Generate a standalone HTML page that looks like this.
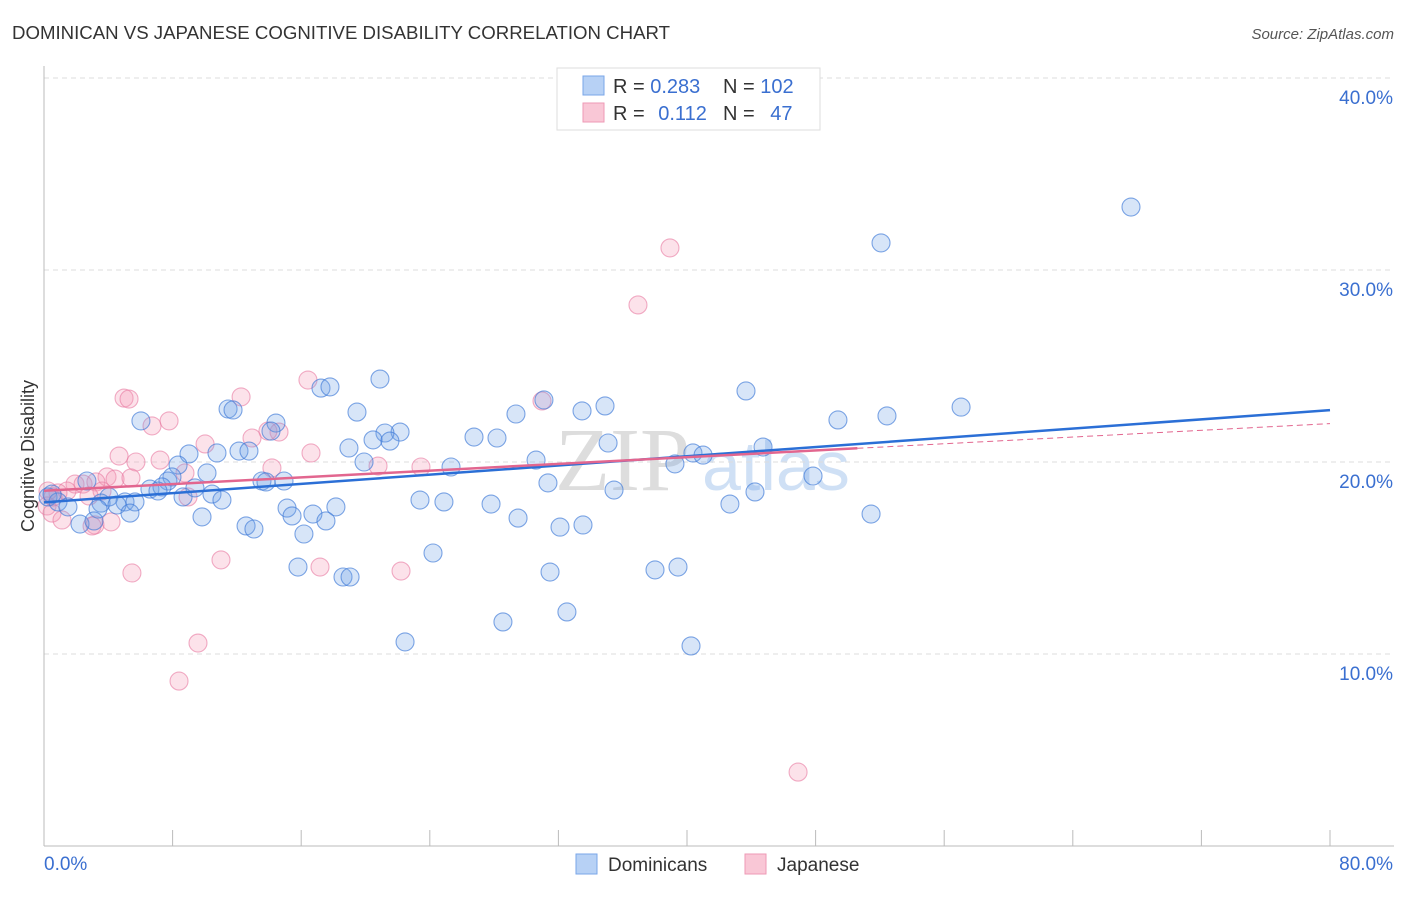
<!DOCTYPE html>
<html><head><meta charset="utf-8"><style>
body{margin:0;background:#fff;font-family:"Liberation Sans",sans-serif;}
</style></head><body>
<svg id="chart" width="1406" height="892" xmlns="http://www.w3.org/2000/svg" font-family="Liberation Sans, sans-serif">
<text x="12" y="39" font-size="18" fill="#333" textLength="658" lengthAdjust="spacingAndGlyphs">DOMINICAN VS JAPANESE COGNITIVE DISABILITY CORRELATION CHART</text>
<text x="1394" y="39" font-size="15" fill="#555" text-anchor="end" font-style="italic">Source: ZipAtlas.com</text>
<text x="555" y="490" font-size="90" fill="#ddd" font-family="Liberation Serif, serif">ZIP<tspan font-family="Liberation Sans, sans-serif" fill="#cfe0f5" font-size="70" dx="12">atlas</tspan></text>
<g id="grid"></g><g id="axes"></g><g id="pts"></g><g id="lines"></g>
<text transform="translate(34,456) rotate(-90)" font-size="18" fill="#333" text-anchor="middle">Cognitive Disability</text>
<g>
<rect x="557" y="68" width="263" height="62" fill="#fff" stroke="#ddd"/>
<rect x="583" y="76" width="21" height="19" fill="#b7d1f5" stroke="#7aa6e8"/>
<rect x="583" y="103" width="21" height="19" fill="#f9c7d6" stroke="#ee9ab5"/>
<text x="613" y="93" font-size="20" fill="#333">R = <tspan fill="#3a6fd0">0.283</tspan></text>
<text x="723" y="93" font-size="20" fill="#333">N = <tspan fill="#3a6fd0">102</tspan></text>
<text x="613" y="120" font-size="20" fill="#333">R = <tspan fill="#3a6fd0" dx="8">0.112</tspan></text>
<text x="723" y="120" font-size="20" fill="#333">N = <tspan fill="#3a6fd0" dx="10">47</tspan></text>
</g>
<g>
<rect x="576" y="854" width="21" height="20" fill="#b7d1f5" stroke="#7aa6e8"/>
<text x="608" y="871" font-size="19" fill="#333">Dominicans</text>
<rect x="745" y="854" width="21" height="20" fill="#f9c7d6" stroke="#ee9ab5"/>
<text x="777" y="871" font-size="19" fill="#333">Japanese</text>
</g>
</svg>
<script>
const yTicks=[10,20,30,40];
const xTickVals=[0,8,16,24,32,40,48,56,64,72,80];
const bluePx=[[1131,207],[881,243],[544,400],[380,379],[321,388],[330,387],[746,391],[961,407],[887,416],[838,420],[605,406],[582,411],[516,414],[357,412],[228,409],[233,410],[141,421],[276,423],[271,431],[400,432],[385,433],[474,437],[497,438],[373,440],[390,441],[608,443],[763,447],[349,448],[239,451],[249,451],[217,453],[189,454],[693,453],[703,455],[675,464],[536,460],[451,467],[364,462],[178,465],[207,473],[172,477],[168,481],[262,481],[266,482],[284,481],[813,476],[548,483],[614,490],[755,492],[87,481],[150,489],[162,487],[158,491],[183,497],[212,494],[195,488],[109,497],[222,500],[125,502],[135,502],[420,500],[444,502],[491,504],[730,504],[336,507],[287,508],[101,503],[117,505],[48,497],[58,502],[68,507],[52,494],[98,509],[130,513],[202,517],[292,516],[313,514],[326,521],[518,518],[871,514],[560,527],[583,525],[246,526],[254,529],[304,534],[80,524],[94,521],[433,553],[298,567],[550,572],[655,570],[678,567],[343,577],[350,577],[567,612],[503,622],[405,642],[691,646]];
const pinkPx=[[670,248],[638,305],[308,380],[124,398],[129,399],[542,401],[241,397],[152,426],[169,421],[279,432],[268,431],[252,438],[205,444],[119,456],[311,453],[160,460],[136,462],[378,466],[421,467],[272,468],[185,473],[107,477],[115,479],[131,478],[75,484],[83,484],[96,482],[67,491],[58,493],[48,491],[102,491],[188,497],[89,496],[47,506],[52,513],[62,520],[95,525],[111,522],[92,526],[132,573],[221,560],[320,567],[401,571],[198,643],[179,681],[798,772],[53,497]];
const blueX=bluePx.map(p=>+((p[0]-44)/1286*80).toFixed(2));
const blueY=bluePx.map(p=>+((846-p[1])/19.2).toFixed(2));
const pinkX=pinkPx.map(p=>+((p[0]-44)/1286*80).toFixed(2));
const pinkY=pinkPx.map(p=>+((846-p[1])/19.2).toFixed(2));
const blueTrend=[17.9,22.7];
const pinkTrend=[18.5,22.0];
const pinkSolidEnd=50.6;
const X=v=>44+v/80*1286, Y=v=>846-v*19.2;
const NS="http://www.w3.org/2000/svg";
function mk(t,a,p){const e=document.createElementNS(NS,t);for(const k in a)e.setAttribute(k,a[k]);p.appendChild(e);return e;}
const grid=document.getElementById('grid'),axes=document.getElementById('axes'),pts=document.getElementById('pts'),lines=document.getElementById('lines');
yTicks.forEach(v=>{
 const l=mk('line',{x1:44,x2:1394,y1:Y(v),y2:Y(v),stroke:'#ddd','stroke-dasharray':'5,4'},grid);
 
 
 const t=mk('text',{x:1393,y:Y(v)+26,'font-size':19,fill:'#3a6fd0','text-anchor':'end'},grid);t.textContent=v.toFixed(1)+'%';
 
 
});
const ya=mk('line',{x1:44,x2:44,y1:66,y2:846,stroke:'#bbb'},axes);


const xa=mk('line',{x1:44,x2:1394,y1:846,y2:846,stroke:'#bbb'},axes);


xTickVals.forEach(v=>{const l=mk('line',{x1:X(v),x2:X(v),y1:830,y2:846,stroke:'#bbb'},axes);
 
 });
[[0,44,'start'],[80,1393,'end']].forEach(([v,x,a])=>{const t=mk('text',{x:x,y:870,'font-size':19,fill:'#3a6fd0','text-anchor':a},axes);t.textContent=v.toFixed(1)+'%';
 
 });
function series(xs,ys,fill,stroke,name){xs.forEach((x,i)=>{const c=mk('circle',{cx:X(x),cy:Y(ys[i]),r:9,fill:fill,stroke:stroke,'stroke-width':1.1},pts);
 
 });}
series(pinkX,pinkY,'rgba(245,150,180,0.28)','rgba(232,120,160,0.6)','japanese');
series(blueX,blueY,'rgba(110,160,230,0.28)','rgba(60,120,215,0.65)','dominicans');
const bl=mk('line',{x1:X(0),y1:Y(blueTrend[0]),x2:X(80),y2:Y(blueTrend[1]),stroke:'#2b6fd6','stroke-width':2.5},lines);


const pv=x=>pinkTrend[0]+(pinkTrend[1]-pinkTrend[0])*x/80;
const pl=mk('line',{x1:X(0),y1:Y(pv(0)),x2:X(pinkSolidEnd),y2:Y(pv(pinkSolidEnd)),stroke:'#e2668f','stroke-width':2.5},lines);


const pd=mk('line',{x1:X(pinkSolidEnd),y1:Y(pv(pinkSolidEnd)),x2:X(80),y2:Y(pv(80)),stroke:'#e2668f','stroke-width':1,'stroke-dasharray':'6,4'},lines);


</script>
</body></html>
